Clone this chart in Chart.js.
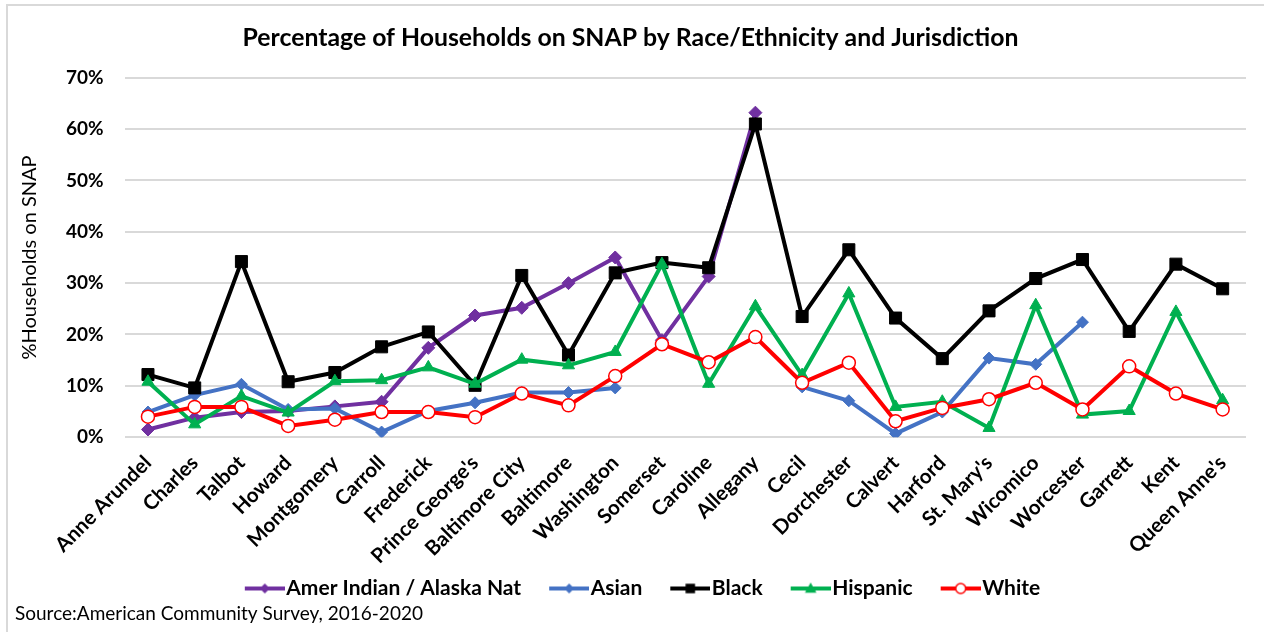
<!DOCTYPE html>
<html>
<head>
<meta charset="utf-8">
<title>SNAP households by race/ethnicity</title>
<script src="https://cdn.jsdelivr.net/npm/chart.js@4"></script>
<style>
    html, body { margin: 0; padding: 0; background: #ffffff; }
    #frame { position: relative; width: 1264px; height: 632px; overflow: hidden; }
    #frame .edge
    {
        position: absolute; left: 6px; top: 4px; width: 1300px; height: 700px;
        border-left: 2px solid #d9d9d9; border-top: 2px solid #d9d9d9;
        pointer-events: none;
    }
</style>
</head>
<body>
<div id="frame">
    <div class="edge"></div>
    <canvas id="snap_chart"></canvas>
</div>
<script>
const jurisdictions = ["Anne Arundel", "Charles", "Talbot", "Howard", "Montgomery", "Carroll", "Frederick",
    "Prince George's", "Baltimore City", "Baltimore", "Washington", "Somerset", "Caroline", "Allegany",
    "Cecil", "Dorchester", "Calvert", "Harford", "St. Mary's", "Wicomico", "Worcester", "Garrett", "Kent",
    "Queen Anne's"];

// percent of households on SNAP, null where no estimate is shown
const amer_indian_values = [1.5, 3.8, 4.9, 5.1, 6.0, 6.9, 17.4, 23.7, 25.2, 30.0, 35.0, 18.9, 31.3, 63.2,
    null, null, null, null, null, null, null, null, null, null];
const asian_values = [4.9, 8.2, 10.3, 5.4, 5.6, 1.0, 5.1, 6.7, 8.7, 8.7, 9.6, null, null, null,
    9.8, 7.1, 0.7, 4.9, 15.4, 14.2, 22.4, null, null, null];
const black_values = [12.2, 9.6, 34.2, 10.8, 12.6, 17.6, 20.5, 10.1, 31.5, 16.0, 32.0, 34.0, 33.0, 61.0,
    23.5, 36.5, 23.2, 15.3, 24.6, 30.9, 34.6, 20.6, 33.7, 28.9];
const hispanic_values = [10.8, 2.5, 8.0, 4.8, 10.9, 11.1, 13.6, 10.4, 15.1, 14.0, 16.6, 33.7, 10.4, 25.5,
    12.1, 28.0, 5.9, 6.9, 1.8, 25.7, 4.4, 5.1, 24.4, 7.2];
const white_values = [4.0, 5.9, 5.9, 2.2, 3.4, 4.9, 4.9, 3.9, 8.5, 6.2, 11.9, 18.1, 14.6, 19.5,
    10.6, 14.5, 3.1, 5.7, 7.4, 10.6, 5.4, 13.8, 8.5, 5.4];

const y_ticks = [0, 10, 20, 30, 40, 50, 60, 70];

const font_family = "Lato, 'Open Sans', sans-serif";
const legend_font_size = 21;

// legend swatch: short line with the series marker in the middle
const legend_line = 40;
const legend_lead = 24;
const legend_text_gap = 1.5;
const legend_box_width = legend_lead + legend_line + legend_text_gap - legend_font_size / 2;
const legend_canvas_width = 2 * (legend_lead + legend_line) - legend_box_width;

function make_legend_marker(line_color, fill_color, shape, size)
{
    const canvas = document.createElement("canvas");
    canvas.width = legend_canvas_width;
    canvas.height = 18;
    const ctx = canvas.getContext("2d");
    const x0 = legend_canvas_width - legend_line;
    const cx = x0 + legend_line / 2;
    const cy = 9;

    ctx.strokeStyle = line_color;
    ctx.lineWidth = 4;
    ctx.beginPath();
    ctx.moveTo(x0, cy);
    ctx.lineTo(x0 + legend_line, cy);
    ctx.stroke();

    ctx.fillStyle = fill_color;
    ctx.strokeStyle = line_color;
    ctx.lineWidth = 1.5;
    ctx.beginPath();
    if (shape === "diamond")
    {
        ctx.moveTo(cx, cy - size);
        ctx.lineTo(cx + size, cy);
        ctx.lineTo(cx, cy + size);
        ctx.lineTo(cx - size, cy);
        ctx.closePath();
    }
    else if (shape === "square")
    {
        ctx.rect(cx - size, cy - size, size * 2, size * 2);
    }
    else if (shape === "triangle")
    {
        ctx.moveTo(cx, cy - size);
        ctx.lineTo(cx + size, cy + size * 0.8);
        ctx.lineTo(cx - size, cy + size * 0.8);
        ctx.closePath();
    }
    else
    {
        ctx.arc(cx, cy, size, 0, Math.PI * 2);
    }
    ctx.fill();
    ctx.stroke();
    return canvas;
}

const legend_markers =
[
    make_legend_marker("#7030a0", "#7030a0", "diamond", 4),
    make_legend_marker("#4472c4", "#4472c4", "diamond", 4),
    make_legend_marker("#000000", "#000000", "square", 4),
    make_legend_marker("#00b050", "#00b050", "triangle", 4.5),
    make_legend_marker("#ff0000", "#ffffff", "circle", 5)
];

const snap_chart = new Chart("snap_chart",
{
    type: "line",
    data:
    {
        labels: jurisdictions,
        datasets:
        [
            {
                label: "Amer Indian / Alaska Nat",
                data: amer_indian_values,
                borderColor: "#7030a0",
                backgroundColor: "#7030a0",
                borderWidth: 4,
                pointStyle: "rectRot",
                pointRadius: 6.5,
                pointBorderWidth: 1,
                order: 5
            },
            {
                label: "Asian",
                data: asian_values,
                borderColor: "#4472c4",
                backgroundColor: "#4472c4",
                borderWidth: 4,
                pointStyle: "rectRot",
                pointRadius: 6,
                pointBorderWidth: 1,
                order: 4
            },
            {
                label: "Black",
                data: black_values,
                borderColor: "#000000",
                backgroundColor: "#000000",
                borderWidth: 4,
                pointStyle: "rect",
                pointRadius: 8.5,
                pointBorderWidth: 1,
                order: 3
            },
            {
                label: "Hispanic",
                data: hispanic_values,
                borderColor: "#00b050",
                backgroundColor: "#00b050",
                borderWidth: 4,
                pointStyle: "triangle",
                pointRadius: 7,
                pointBorderWidth: 1,
                order: 2
            },
            {
                label: "White",
                data: white_values,
                borderColor: "#ff0000",
                backgroundColor: "#ff0000",
                pointBackgroundColor: "#ffffff",
                pointBorderColor: "#ff0000",
                borderWidth: 4,
                pointStyle: "circle",
                pointRadius: 6.5,
                pointBorderWidth: 1.5,
                order: 1
            }
        ]
    },
    options:
    {
        responsive: true,
        maintainAspectRatio: false,
        animation: false,
        spanGaps: false,
        layout:
        {
            padding: { top: 0, left: 15, right: 18, bottom: 6 }
        },
        elements:
        {
            line: { tension: 0 }
        },
        plugins:
        {
            tooltip: { enabled: false },
            title:
            {
                display: true,
                text: "Percentage of Households on SNAP by Race/Ethnicity and Jurisdiction",
                color: "#000000",
                font: { family: font_family, size: 24.8, weight: "bold" },
                padding: { top: 23, bottom: 25 }
            },
            legend:
            {
                display: true,
                position: "bottom",
                labels:
                {
                    color: "#000000",
                    font: { family: font_family, size: legend_font_size, weight: "bold" },
                    usePointStyle: true,
                    pointStyleWidth: legend_box_width,
                    padding: 4,
                    sort: function (a, b) { return a.datasetIndex - b.datasetIndex; },
                    generateLabels: function (chart)
                    {
                        const items = Chart.defaults.plugins.legend.labels.generateLabels(chart);
                        items.forEach(function (item)
                        {
                            item.pointStyle = legend_markers[item.datasetIndex];
                        });
                        return items;
                    }
                }
            },
            subtitle:
            {
                display: true,
                position: "bottom",
                align: "start",
                text: "Source:American Community Survey, 2016-2020",
                color: "#000000",
                font: { family: font_family, size: 19, weight: "normal", lineHeight: 1 },
                padding: { top: -5, bottom: 3 }
            }
        },
        scales:
        {
            x:
            {
                offset: true,
                grid: { display: false },
                border: { display: false },
                ticks:
                {
                    color: "#000000",
                    font: { family: font_family, size: 20.5, weight: "bold", lineHeight: 1 },
                    minRotation: 45,
                    maxRotation: 45,
                    autoSkip: false,
                    padding: 7
                }
            },
            y:
            {
                min: 0,
                max: 70,
                afterBuildTicks: function (scale)
                {
                    scale.ticks = y_ticks.map(function (v) { return { value: v }; });
                },
                grid:
                {
                    color: "#d9d9d9",
                    lineWidth: 2,
                    drawTicks: false
                },
                border: { display: false },
                ticks:
                {
                    color: "#000000",
                    font: { family: font_family, size: 19, weight: "bold" },
                    padding: 21,
                    callback: function (value) { return value + "%"; }
                },
                title:
                {
                    display: true,
                    text: "%Households on SNAP",
                    color: "#000000",
                    font: { family: font_family, size: 20, weight: "normal" },
                    padding: { top: 3, bottom: 3 }
                }
            }
        }
    }
});
</script>
</body>
</html>
